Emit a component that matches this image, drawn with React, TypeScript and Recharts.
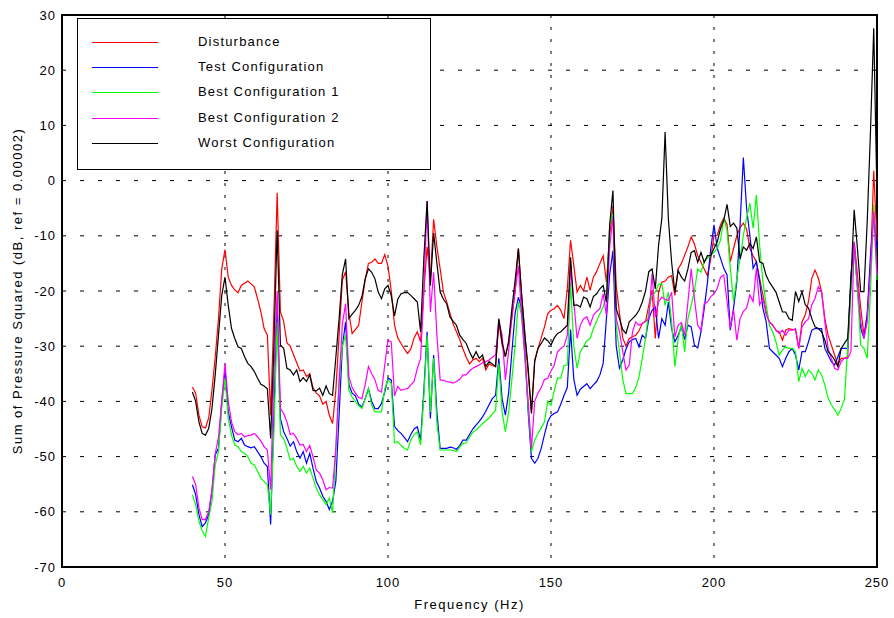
import React from "react";
import {
  LineChart, Line, XAxis, YAxis, CartesianGrid, Legend, ReferenceArea,
} from "recharts";

// frequency grid: 1 Hz steps from 40 to 250 Hz
const F_START = 40;
const F_END = 250;

const X_TICKS = [0, 50, 100, 150, 200, 250];
const Y_TICKS = [-70, -60, -50, -40, -30, -20, -10, 0, 10, 20, 30];

const disturbance = [
  -37.4, -38.5, -42.5, -44.6, -44.8, -43, -38, -32, -25, -16,
  -12.5, -17.5, -19, -19.8, -20.3, -19, -18.6, -18.2, -18.7, -19.3,
  -21.4, -23.8, -26.8, -28, -42.5, -24, -2.2, -23.8, -25.5, -29.4,
  -30, -31.5, -33, -34.5, -34.3, -35.5, -35, -37.5, -38.5, -39,
  -40.5, -40, -42.5, -44, -38, -28, -18, -16.5, -24, -27.7,
  -27, -26.2, -22, -18, -15, -14.8, -14.2, -15, -15, -13.4,
  -15.5, -20, -26.2, -28.5, -29.5, -30.5, -31.3, -30.5, -28.5, -27.4,
  -29.2, -20, -12, -18, -7, -12, -16, -20.2, -22, -24,
  -26, -27.4, -28.8, -30.5, -32, -33.2, -32.5, -32.2, -32.8, -32.2,
  -34.3, -33.2, -33.5, -33.7, -25.6, -29.8, -31.9, -29.2, -25, -20,
  -12.3, -20.8, -28, -35, -41.9, -32.5, -30.4, -28.5, -26.5, -24.1,
  -23.5, -23.2, -22.6, -23.5, -25, -19.6, -10.8, -15.4, -20.2, -19,
  -20, -17.5, -19.9, -17.5, -16.5, -15, -13.6, -18.4, -10, -4.5,
  -19, -24, -28.5, -30, -28.6, -28.3, -28, -27.2, -25.9, -25.5,
  -22.6, -19.8, -28.6, -20.2, -18.4, -18.2, -17.5, -17.2, -20.8, -16,
  -15, -13.5, -12, -10.2, -11.5, -13.6, -14.8, -16, -17.2, -14.2,
  -10, -9.9, -8, -6.8, -8, -14.7, -12.3, -10, -8.5, -7.7,
  -8.8, -12.3, -13.6, -14.7, -17.7, -20.7, -23.7, -25.6, -26.2, -27.1,
  -27.4, -28.9, -27.1, -26.8, -27, -27, -30.4, -25.6, -24.3, -21.9,
  -17.7, -16.2, -17.7, -20.1, -25, -28, -29.8, -31.6, -33.4, -32.2,
  -32.2, -31.9, -18.3, -11.1, -17.1, -23.1, -28, -24.3, -15.9, 1.8,
  -11,
];

const testConfig = [
  -55.1, -56.9, -60.5, -62.7, -62, -60.5, -56.3, -49.7, -48.5, -40,
  -34.3, -41.9, -44.6, -47, -47.3, -46.7, -47.9, -48.2, -48.4, -48.2,
  -49.1, -50, -51.2, -51.8, -62.3, -42.5, -22.5, -43.1, -45.5, -46.7,
  -48.1, -47.3, -49.1, -50.3, -49.1, -51.2, -49.4, -52.1, -54.5, -55.7,
  -57.2, -58.1, -59.6, -58.1, -54.5, -42.5, -30, -25.6, -37, -38.5,
  -39, -40.5, -41, -39.5, -37.7, -40, -41.3, -41.3, -40.4, -38.3,
  -35.8, -36.1, -44.5, -45.3, -45.8, -46.5, -47.3, -46, -45, -44.6,
  -47, -38, -27.4, -43.1, -31.6, -42, -48.5, -48.5, -48.5, -48.3,
  -48.4, -48.7, -48, -47, -47, -46, -45, -44.3, -43.6, -42.8,
  -41.8, -40.6, -39.5, -38.9, -32.2, -39.5, -42.5, -38.5, -31, -24,
  -21.1, -23.2, -31, -42, -50.3, -51.2, -50.3, -48.5, -46, -43.7,
  -42.6, -42.2, -41.9, -40.5, -38.9, -37.5, -27, -36, -38.9, -37.8,
  -37.3, -36.8, -37.7, -37, -36.4, -35.2, -33.1, -25, -17, -12.7,
  -30, -34, -32.5, -30.5, -29.2, -28.8, -28.6, -30.1, -28, -28.6,
  -25, -23.5, -22.9, -28.6, -25, -26.2, -22, -26.8, -29.2, -28,
  -26.5, -28.8, -26.2, -26.5, -29.8, -30.3, -27.4, -23.2, -18.4, -12.3,
  -8, -12.3, -14.1, -15.9, -17.1, -27.1, -23.1, -18.3, -8, 4.2,
  -5, -9.9, -15.9, -14.7, -18.3, -23.1, -25.6, -30.4, -31, -31.6,
  -32.2, -33.7, -32.2, -31, -30.4, -31.6, -34.3, -31, -31, -29.2,
  -27.1, -26.8, -26.8, -26.8, -30.4, -31.6, -32.8, -33.4, -31.9, -30.4,
  -30.4, -30.4, -17.1, -11.7, -19.5, -26.8, -28.6, -24.3, -13.5, -6.2,
  -12.3,
];

const best1 = [
  -56.9, -58.7, -61.7, -63.5, -64.5, -61.1, -58.1, -51.5, -49.1, -41.3,
  -35.8, -43.1, -46.1, -47.9, -48.2, -49.1, -49.4, -50, -51.2, -51.5,
  -52.7, -53.9, -54.5, -55.1, -60.5, -45.5, -25.6, -46.1, -46.7, -48.5,
  -50.6, -50.3, -51.8, -52.7, -51.8, -53, -52.1, -53.9, -55.7, -56.9,
  -57.8, -58.7, -57.5, -60.2, -48.5, -36.4, -30, -28, -38, -39.2,
  -40, -40.8, -41.3, -39.5, -37.7, -40.7, -41.9, -41.9, -41.9, -37.7,
  -36.1, -36.7, -47.5, -47.3, -48, -48.5, -48.8, -47, -46, -45.5,
  -47.9, -39, -28, -41.9, -32.2, -44, -48.8, -48.8, -48.8, -48.8,
  -48.9, -49.1, -48.3, -47.6, -47.5, -46.5, -45.6, -45.2, -44.6, -44,
  -43.5, -43, -42.3, -41.6, -33.1, -41.9, -45.5, -42, -36, -29.8,
  -22, -24.4, -32, -41, -49.1, -47, -45.8, -44.8, -43.7, -40,
  -40.7, -38, -35.8, -35.8, -33.5, -33.4, -18.4, -30, -34, -31,
  -30, -29, -28.6, -26.8, -25.5, -24.1, -22.9, -20.8, -8, -6,
  -26.2, -31, -36, -38.6, -38.6, -38.6, -37.5, -35.5, -32.2, -28.6,
  -23.5, -20.8, -20.2, -18.8, -18.7, -22.6, -20.2, -25.6, -33.7, -28.6,
  -25.9, -31, -25, -22.6, -20, -16, -16.6, -14.7, -14.1, -13.5,
  -13, -12.3, -10.8, -6.8, -9, -15.9, -21.9, -17.7, -14.1, -9.9,
  -6.8, -4.1, -8.6, -2.6, -11.7, -18.3, -22.5, -26.2, -27.4, -29.2,
  -31.6, -30.7, -30.1, -30.4, -30.4, -31, -36.4, -34, -35.5, -34.3,
  -34.9, -36.1, -34.3, -35.2, -37, -39.4, -40.6, -41.5, -42.5, -41.3,
  -39.7, -30.4, -20, -12.3, -19.5, -29.8, -30.4, -32.2, -20.1, -4.4,
  -18,
];

const best2 = [
  -53.6, -55.1, -59.3, -61.4, -61.4, -60, -56, -49.5, -46.5, -40,
  -33.2, -40, -43.7, -45.5, -46, -45.8, -46.4, -46.2, -46.1, -45.8,
  -46.4, -47.2, -48.2, -48.8, -56, -35, -20, -41.3, -42.2, -43.7,
  -46, -45.8, -46.7, -47.9, -47.8, -49.1, -48, -50, -52.4, -53,
  -54.2, -56, -55.6, -55.7, -48.5, -36.4, -26, -22.3, -35.5, -37.5,
  -38.5, -39.3, -39.5, -37, -33.7, -35, -36.1, -38, -38.3, -33.4,
  -28.9, -29.2, -39, -37.3, -38, -37.8, -37.7, -37, -36.4, -34,
  -32.2, -20, -3.7, -23.8, -16.6, -28, -36.1, -36.2, -36.4, -36.5,
  -36.7, -36.4, -36, -35.2, -35.2, -34.5, -34, -33.7, -33.4, -33,
  -32.8, -32.5, -32, -31.6, -25.3, -28, -36.1, -31, -24.4, -20,
  -15.4, -24.4, -32, -40, -48.5, -40, -38.5, -37.5, -36, -35.8,
  -34.5, -33.4, -31, -30.4, -30, -28, -16, -22, -28.6, -26.2,
  -25, -24.7, -26.2, -24.4, -23.7, -23.2, -20.5, -24.4, -12, -6.5,
  -25, -27.4, -31, -34.3, -33.4, -27.4, -25.6, -26.2, -25.9, -25.5,
  -25, -16.9, -24.7, -22, -21.1, -21.5, -21.7, -20.2, -28.3, -26.2,
  -25.7, -28, -22, -16, -21.4, -26.2, -27.1, -22.3, -22, -21,
  -20.5, -19.5, -17.5, -17.1, -21.9, -26.8, -23.4, -28.9, -25, -23.7,
  -23.1, -20.7, -21.9, -15.9, -22.5, -21.3, -24.3, -25.6, -26.2, -27.1,
  -27.7, -27.1, -28, -27.1, -27.1, -26.8, -30.4, -26.5, -25.6, -25,
  -22.5, -21.3, -19.2, -20.1, -25.6, -30.4, -32.2, -34, -34.3, -32.8,
  -32.2, -32.2, -31, -11.1, -18.3, -25.6, -28.6, -25.6, -15.9, -5.6,
  -17.1,
];

const worst = [
  -38.3, -40, -43.7, -45.8, -46.1, -44.9, -41.3, -35.2, -28, -20.8,
  -17.5, -22.6, -26.8, -28.6, -30.1, -30.4, -31.9, -33.1, -33.7, -34.6,
  -35.8, -36.9, -37.2, -37.7, -46.7, -30, -9, -29.8, -30.4, -34,
  -34.3, -35.2, -34.3, -36.4, -35.7, -36.4, -35.2, -38, -38.1, -37.6,
  -38.9, -37.2, -38.6, -38.9, -32, -25, -17, -14.2, -25, -24.2,
  -23.5, -22.6, -21, -17.8, -16, -16.6, -17.8, -20.2, -21.4, -19.6,
  -19, -20.8, -24.5, -21.5, -20.5, -20.3, -20.3, -20.8, -21.4, -22,
  -27.4, -14, -3.7, -19, -9.5, -15, -20.2, -21.5, -22.3, -24.7,
  -25.5, -26.2, -28, -28.8, -29.5, -31, -32.2, -31, -32.2, -31.6,
  -33.7, -32.8, -33.2, -33.7, -25, -29.2, -31.9, -29.2, -23.2, -18,
  -12.3, -20.8, -28, -34, -42.2, -32.8, -30.4, -29.5, -28.5, -29,
  -29.8, -28.5, -27.7, -27.4, -26.8, -26.2, -13.9, -22.6, -22.5, -22.9,
  -21.1, -21.4, -22.9, -21, -20.5, -19.6, -19, -22, -8, -1.8,
  -23.2, -25, -27, -27.7, -25.6, -25, -24.4, -23.5, -22, -20,
  -16.5, -16, -19.6, -11.7, -6.9, 8.8, -6.9, -14.8, -20.2, -16.3,
  -17.5, -18.2, -16, -13, -12.7, -14.8, -13, -14.8, -13.6, -13.6,
  -12.3, -11.1, -8.7, -7.2, -4.3, -8.3, -7.7, -8.6, -14.2, -12,
  -12.6, -11.4, -12.3, -10.2, -14.7, -15, -17.2, -18.4, -19.3, -20.2,
  -22, -23.8, -23.8, -25, -25.3, -20.1, -21.9, -20.1, -22.5, -23.1,
  -25, -26.5, -26.8, -27.4, -28.9, -31, -31.6, -32.5, -33.7, -30.4,
  -29.5, -28.6, -18.3, -5.3, -12.3, -20.1, -20.1, -7.4, 8.9, 27.6,
  -3,
];

const SERIES = [
  { key: "disturbance", name: "Disturbance", color: "#ff0000", values: disturbance },
  { key: "test", name: "Test Configuration", color: "#0000ff", values: testConfig },
  { key: "best1", name: "Best Configuration 1", color: "#00ff00", values: best1 },
  { key: "best2", name: "Best Configuration 2", color: "#ff00ff", values: best2 },
  { key: "worst", name: "Worst Configuration", color: "#000000", values: worst },
];

const rows: any[] = [];
for (let f = F_START; f <= F_END; f++) {
  const row: any = { f };
  SERIES.forEach((s) => { row[s.key] = s.values[f - F_START]; });
  rows.push(row);
}

const FONT = "'Liberation Sans', Arial, sans-serif";
const tickStyle = { fill: "#000", fontSize: 13, fontFamily: FONT, letterSpacing: 1 };

function YLabel(props: any) {
  const vb = props.viewBox || { y: 15, height: 552 };
  const cy = vb.y + vb.height / 2;
  return (
    <text x={17} y={cy} transform={`rotate(-90 17 ${cy})`} textAnchor="middle" dominantBaseline="central"
      fontSize={13} fontFamily={FONT} letterSpacing={1.5} fill="#000">
      Sum of Pressure Squared (dB, ref = 0.00002)
    </text>
  );
}

// legend keeps the series order (recharts would sort it by name)
function LegendBox() {
  return (
    <div style={{ position: "relative", width: 354, height: 152, border: "1.5px solid #000", background: "#fff", boxSizing: "border-box" }}>
      {SERIES.map((s, i) => (
        <div key={s.key} style={{ position: "absolute", left: 0, top: Math.round(23 + i * 25.2), height: 2, width: "100%" }}>
          <svg width={70} height={3} style={{ position: "absolute", left: 14, top: -1 }}>
            <line x1={0} y1={1.5} x2={66} y2={1.5} stroke={s.color} strokeWidth={1.2} />
          </svg>
          <div style={{ position: "absolute", left: 120, top: -9, fontSize: 13, fontFamily: FONT, letterSpacing: 1.2, color: "#000", whiteSpace: "nowrap", lineHeight: "18px" }}>
            {s.name}
          </div>
        </div>
      ))}
    </div>
  );
}

export default function App() {
  return (
    <div style={{ position: "absolute", left: 0, top: 0, background: "#fff" }}>
      <LineChart width={894} height={618} data={rows} margin={{ top: 15, right: 17, bottom: 0, left: 0 }}>
        <CartesianGrid vertical={false} stroke="#000" strokeDasharray="4 14" />
        <CartesianGrid horizontal={false} stroke="#000" strokeDasharray="3 9" />
        <XAxis dataKey="f" type="number" domain={[0, 250]} ticks={X_TICKS} height={51}
          axisLine={false} tickLine={false} tickSize={0} tickMargin={11} tick={tickStyle}
          label={{ value: "Frequency (Hz)", position: "insideBottom", offset: 9, fill: "#000", fontSize: 13, fontFamily: FONT, letterSpacing: 1.5 }} />
        <YAxis type="number" domain={[-70, 30]} ticks={Y_TICKS} width={62}
          axisLine={false} tickLine={false} tickSize={0} tickMargin={6} tick={tickStyle}
          label={<YLabel />} />
        <Legend layout="horizontal" verticalAlign="middle" align="center" content={<LegendBox />}
          wrapperStyle={{ left: 77, top: 18, width: 354, height: 152 }} />
        {SERIES.map((s) => (
          <Line key={s.key} type="linear" dataKey={s.key} name={s.name} stroke={s.color}
            strokeWidth={1.2} dot={false} activeDot={false} isAnimationActive={false} />
        ))}
        <ReferenceArea x1={0} x2={250} y1={-70} y2={30} fill="none" stroke="#000" strokeWidth={2} />
      </LineChart>
    </div>
  );
}
